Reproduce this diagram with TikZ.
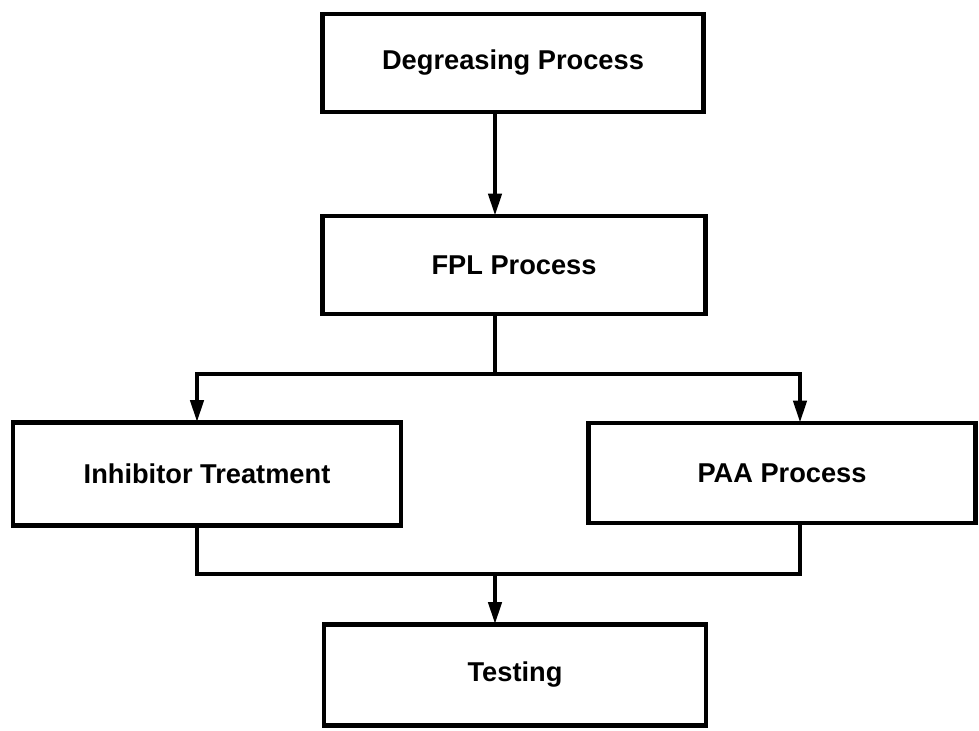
\documentclass[tikz,border=0pt]{standalone}
\usepackage{fontspec}
\setmainfont{Liberation Sans}
\usetikzlibrary{arrows.meta, positioning, calc}

\begin{document}
\begin{tikzpicture}[
  x=0.02cm, y=-0.02cm,
  procbox/.style={draw, line width=2.4pt, rectangle, inner sep=0pt, font=\fontsize{15.5}{18}\selectfont\bfseries},
  flow/.style={line width=2.4pt},
  arr/.style={flow, -{Triangle[length=0.44cm, width=0.26cm]}, shorten >=-1pt}
]
\useasboundingbox (0,0) rectangle (979,730);

% process boxes
\node[procbox, minimum width=7.62cm, minimum height=1.96cm] (degr) at (513,63) {Degreasing Process};
\node[procbox, minimum width=7.66cm, minimum height=1.96cm] (fpl) at (514,265) {FPL Process};
\node[procbox, minimum width=7.76cm, minimum height=2.06cm] (inhib) at (207,474) {Inhibitor Treatment};
\node[procbox, minimum width=7.74cm, minimum height=2.0cm] (paa) at (782,473) {PAA Process};
\node[procbox, minimum width=7.64cm, minimum height=2.02cm] (test) at (515,675) {Testing};

% branch and merge points
\coordinate (split) at (495,374);
\coordinate (merge) at (495,574);

% connectors
\draw[arr] (degr.south -| split) -- (fpl.north -| split);
\draw[flow] (fpl.south -| split) -- (split);
\draw[arr] (split) -| ([xshift=-0.2cm]inhib.north);
\draw[arr] (split) -| ([xshift=0.36cm]paa.north);
\draw[flow] ([xshift=-0.2cm]inhib.south) |- (merge) -| ([xshift=0.36cm]paa.south);
\draw[arr] (merge) -- (test.north -| merge);
\end{tikzpicture}
\end{document}
